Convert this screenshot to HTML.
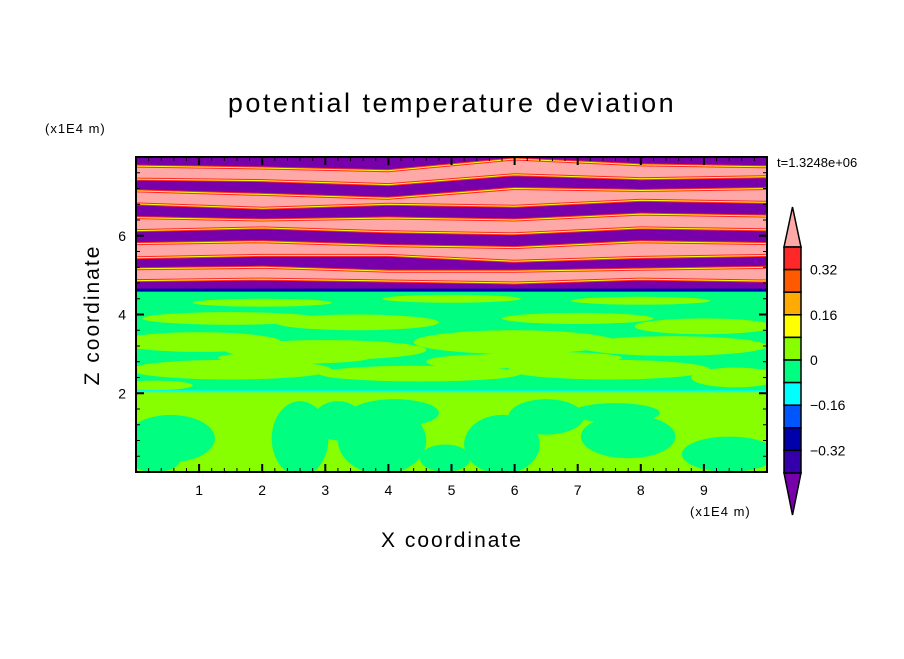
<!DOCTYPE html>
<html><head><meta charset="utf-8"><style>
body{margin:0;background:#fff;}
svg text{font-family:"Liberation Sans",sans-serif;fill:#000;}
</style></head><body>
<svg id="chart" width="904" height="654" xmlns="http://www.w3.org/2000/svg">
<rect width="904" height="654" fill="#fff"/>
<text x="452" y="112" font-size="27" text-anchor="middle" letter-spacing="2.5">potential temperature deviation</text>
<text x="45" y="133" font-size="13" letter-spacing="1">(x1E4 m)</text>
<text x="777" y="167" font-size="13">t=1.3248e+06</text>
<text x="690" y="516" font-size="13" letter-spacing="1">(x1E4 m)</text>
<text x="452" y="547" font-size="21" text-anchor="middle" letter-spacing="2">X coordinate</text>
<text x="0" y="0" font-size="21" text-anchor="middle" letter-spacing="2" transform="translate(99,315) rotate(-90)">Z coordinate</text>
<g id="field"></g>
<g id="axes"></g>
<g id="cbar"></g>
</svg>
<script>
const xs=[0,2,4,6,8,10];
const b1=[7.77,7.72,7.65,7.95,7.8,7.75];
const b2=[7.44,7.40,7.30,7.55,7.45,7.50];
const b3=[7.14,7.05,6.95,7.20,7.15,7.20];
const b4=[6.81,6.70,6.80,6.75,6.90,6.85];
const b5=[6.46,6.40,6.45,6.40,6.55,6.50];
const b6=[6.13,6.20,6.10,6.05,6.20,6.15];
const b7=[5.80,5.85,5.75,5.70,5.85,5.80];
const b8=[5.44,5.50,5.50,5.35,5.45,5.50];
const b9=[5.16,5.20,5.10,5.10,5.15,5.20];
const b10=[4.86,4.90,4.85,4.80,4.90,4.85];
const bBottom=[4.62,4.62,4.62,4.62,4.62,4.62];
const bTop=[8,8,8,8,8,8];
const midCx=[1.5,3.5,7,9,1,3,6,8.5,1.5,4.5,7.5,9.5,2,5,8,0.3,5.5,2.5,6.5];
const midCz=[3.9,3.8,3.9,3.7,3.3,3.1,3.3,3.2,2.6,2.5,2.6,2.4,4.3,4.4,4.35,2.2,2.8,2.9,2.9];
const midRx=[1.4,1.3,1.2,1.1,1.3,1.6,1.6,1.5,1.6,1.6,1.6,0.7,1.1,1.1,1.1,0.6,0.9,1.2,1.2];
const midRz=[0.16,0.2,0.14,0.2,0.25,0.25,0.3,0.25,0.25,0.2,0.25,0.25,0.1,0.1,0.1,0.12,0.18,0.15,0.15];
const lowCx=[0.55,2.6,3.9,4.1,5.8,6.5,7.8,7.6,9.4,4.9,0.3,3.2];
const lowCz=[0.85,0.85,0.8,1.5,0.7,1.4,0.9,1.5,0.45,0.35,0.3,1.3];
const lowRx=[0.7,0.45,0.7,0.7,0.6,0.6,0.75,0.7,0.75,0.4,0.4,0.4];
const lowRz=[0.6,0.95,0.85,0.35,0.75,0.45,0.55,0.25,0.45,0.35,0.3,0.5];
const xTicks=[1,2,3,4,5,6,7,8,9];
const zTicks=[2,4,6];
const cbLabels=["0.32","0.16","0","-0.16","-0.32"];
const cbLabelIdx=[1,3,5,7,9];
const cbColors=["#ff2828","#ff5a00","#ffaa00","#ffff00","#88ff00","#00ff80","#00ffff","#0055ff","#0000aa","#3300aa"];

const X0=136,X1=767,Y0=472,Y1=157;
const sx=v=>X0+(X1-X0)*v/10;
const sz=v=>Y0-(Y0-Y1)*v/8;
const NS="http://www.w3.org/2000/svg";
function mk(tag,attrs,parent){const e=document.createElementNS(NS,tag);for(const k in attrs)e.setAttribute(k,attrs[k]);parent.appendChild(e);return e;}
const F=document.getElementById('field');
const clip=mk('clipPath',{id:'pc'},F);mk('rect',{x:X0,y:Y1,width:X1-X0,height:Y0-Y1},clip);
const G=mk('g',{'clip-path':'url(#pc)'},F);
function line(arr){return xs.map((x,i)=>sx(x).toFixed(1)+','+sz(arr[i]).toFixed(1));}
function band(top,bot){return 'M'+line(top).join(' L')+' L'+line(bot).reverse().join(' L')+'Z';}
let r=mk('rect',{x:X0,y:sz(2.05),width:X1-X0,height:Y0-sz(2.05),fill:'#88ff00'},G);

for(let i=0;i<lowCx.length;i++){const e=mk('ellipse',{cx:sx(lowCx[i]),cy:sz(lowCz[i]),rx:sx(lowRx[i])-sx(0),ry:sz(0)-sz(lowRz[i]),fill:'#00ff80'},G);
}
r=mk('rect',{x:X0,y:sz(4.62),width:X1-X0,height:sz(2.05)-sz(4.62),fill:'#00ff80'},G);

for(let i=0;i<midCx.length;i++){const e=mk('ellipse',{cx:sx(midCx[i]),cy:sz(midCz[i]),rx:sx(midRx[i])-sx(0),ry:sz(0)-sz(midRz[i]),fill:'#88ff00'},G);
}
let ln=mk('line',{x1:X0,x2:X1,y1:sz(2.05),y2:sz(2.05),stroke:'#00ffff','stroke-width':2},G);

let p=mk('path',{d:band(bTop,bBottom),fill:'#ffa8a8'},G);

const purple=[[bTop,b1],[b2,b3],[b4,b5],[b6,b7],[b8,b9],[b10,bBottom]];
purple.forEach(([a,b])=>{const q=mk('path',{d:band(a,b),fill:'#7700aa'},G);
});
[b1,b2,b3,b4,b5,b6,b7,b8,b9,b10].forEach(b=>{
 const d='M'+line(b).join(' L');
 mk('path',{d:d,fill:'none',stroke:'#ff2828','stroke-width':3},G);
 const q=mk('path',{d:d,fill:'none',stroke:'#ffff00','stroke-width':1},G);
 });
const bl=mk('path',{d:'M'+line(bBottom).join(' L'),fill:'none',stroke:'#0000aa','stroke-width':3},G);

const A=document.getElementById('axes');
mk('rect',{x:X0,y:Y1,width:X1-X0,height:Y0-Y1,fill:'none',stroke:'#000','stroke-width':2},A);
for(let v=0.2;v<10;v+=0.2){const maj=Math.abs(v-Math.round(v))<0.01;const L=maj?8:4;
 mk('line',{x1:sx(v),x2:sx(v),y1:Y0,y2:Y0-L,stroke:'#000','stroke-width':maj?2:1},A);
 mk('line',{x1:sx(v),x2:sx(v),y1:Y1,y2:Y1+L,stroke:'#000','stroke-width':maj?2:1},A);}
for(let v=0.4;v<8;v+=0.4){const maj=Math.abs(v/2-Math.round(v/2))<0.01;const L=maj?8:4;
 mk('line',{x1:X0,x2:X0+L,y1:sz(v),y2:sz(v),stroke:'#000','stroke-width':maj?2:1},A);
 mk('line',{x1:X1,x2:X1-L,y1:sz(v),y2:sz(v),stroke:'#000','stroke-width':maj?2:1},A);}
xTicks.forEach(v=>{const t=mk('text',{x:sx(v),y:495,'font-size':14,'text-anchor':'middle'},A);t.textContent=v;
 });
zTicks.forEach(v=>{const t=mk('text',{x:126,y:sz(v)+5,'font-size':14,'text-anchor':'end'},A);t.textContent=v;
 });
const C=document.getElementById('cbar');
const cx0=784,cx1=801,cy0=247,cy1=473,ch=(cy1-cy0)/cbColors.length;
mk('polygon',{points:`${cx0},${cy0} ${(cx0+cx1)/2},207 ${cx1},${cy0}`,fill:'#ffa8a8',stroke:'#000','stroke-width':1.5},C);
mk('polygon',{points:`${cx0},${cy1} ${(cx0+cx1)/2},515 ${cx1},${cy1}`,fill:'#7700aa',stroke:'#000','stroke-width':1.5},C);
cbColors.forEach((c,i)=>{const q=mk('rect',{x:cx0,y:cy0+i*ch,width:cx1-cx0,height:ch,fill:c,stroke:'#000','stroke-width':1.5},C);
 });
cbLabels.forEach((l,i)=>{const t=mk('text',{x:810,y:cy0+cbLabelIdx[i]*ch+5,'font-size':14},C);t.textContent=l.replace('-','\u2212');
 });
</script>
</body></html>
